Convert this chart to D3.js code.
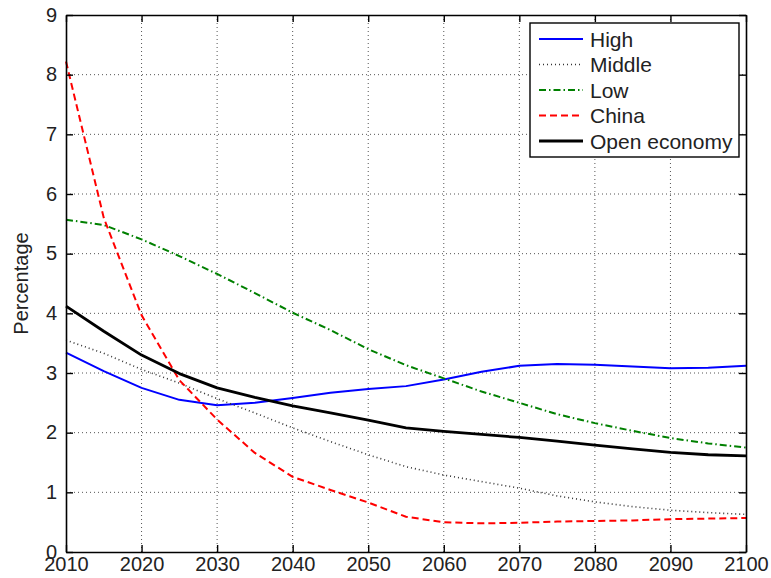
<!DOCTYPE html>
<html>
<head>
<meta charset="utf-8">
<script src="https://cdn.jsdelivr.net/npm/d3@7"></script>
<style>
  html, body { margin: 0; padding: 0; background: #fff; }
  svg { display: block; font-family: "Liberation Sans", Arial, Helvetica, sans-serif; }
</style>
</head>
<body>
<svg id="chart" width="771" height="578"></svg>
<script>
// Projected percentages, 2010-2100 in five-year steps
const years = d3.range(2010, 2101, 5);
const high   = [3.34, 3.03, 2.75, 2.55, 2.46, 2.50, 2.58, 2.67, 2.73, 2.78, 2.89, 3.02, 3.12, 3.15, 3.14, 3.11, 3.08, 3.09, 3.12];
const middle = [3.55, 3.33, 3.06, 2.83, 2.57, 2.33, 2.08, 1.85, 1.63, 1.43, 1.29, 1.18, 1.07, 0.94, 0.84, 0.76, 0.70, 0.66, 0.63];
const low    = [5.57, 5.48, 5.24, 4.96, 4.66, 4.34, 4.01, 3.72, 3.40, 3.13, 2.91, 2.69, 2.50, 2.31, 2.16, 2.03, 1.91, 1.82, 1.75];
const china  = [8.22, 5.60, 3.97, 2.88, 2.22, 1.66, 1.26, 1.04, 0.83, 0.59, 0.50, 0.48, 0.49, 0.51, 0.52, 0.53, 0.55, 0.56, 0.57];
const openEconomy = [4.12, 3.70, 3.30, 2.99, 2.75, 2.59, 2.45, 2.33, 2.21, 2.08, 2.02, 1.97, 1.92, 1.86, 1.79, 1.73, 1.67, 1.63, 1.61];

const xTicks = d3.range(2010, 2101, 10);
const yTicks = d3.range(0, 10, 1);

const seriesNames = ["High", "Middle", "Low", "China", "Open economy"];
const seriesValues = [high, middle, low, china, openEconomy];
const seriesStyle = [
  { color: "#0000ff", width: 2,   dash: null },
  { color: "#333333", width: 1.6, dash: "1,3" },
  { color: "#008000", width: 2,   dash: "7,3,1.5,3" },
  { color: "#ff0000", width: 2,   dash: "7,4" },
  { color: "#000000", width: 2.8, dash: null }
];

const svg = d3.select("#chart");
const W = 771, H = 578;
const m = { left: 66, right: W - 746, top: 15, bottom: H - 552 };
const x = d3.scaleLinear().domain([2010, 2100]).range([m.left, W - m.right]);
const y = d3.scaleLinear().domain([0, 9]).range([H - m.bottom, m.top]);

// dotted grid
const grid = svg.append("g");
grid.selectAll(".gx").data(xTicks.slice(1, -1)).join("line")
  .attr("x1", d => x(d)).attr("x2", d => x(d))
  .attr("y1", y(0)).attr("y2", y(9))
  .attr("stroke", "#555").attr("stroke-width", 1).attr("stroke-dasharray", "1,3");
grid.selectAll(".gy").data(yTicks.slice(1, -1)).join("line")
  .attr("x1", x(2010)).attr("x2", x(2100))
  .attr("y1", d => y(d)).attr("y2", d => y(d))
  .attr("stroke", "#555").attr("stroke-width", 1).attr("stroke-dasharray", "1,3");

// series lines
const line = d3.line().x((d, i) => x(years[i])).y(d => y(d));
seriesValues.forEach((vals, k) => {
  const s = seriesStyle[k];
  svg.append("path").datum(vals)
    .attr("d", line)
    .attr("fill", "none")
    .attr("stroke", s.color)
    .attr("stroke-width", s.width)
    .attr("stroke-linejoin", "round")
    .attr("stroke-dasharray", s.dash);
});

// axes on all four sides, ticks pointing inward
const tickLen = 7;
const axB = svg.append("g").attr("transform", `translate(0,${y(0)})`)
  .call(d3.axisBottom(x).tickValues(xTicks).tickFormat(d3.format("d")).tickSizeInner(-tickLen).tickSizeOuter(0).tickPadding(5));
const axT = svg.append("g").attr("transform", `translate(0,${y(9)})`)
  .call(d3.axisTop(x).tickValues(xTicks).tickFormat("").tickSizeInner(-tickLen).tickSizeOuter(0));
const axL = svg.append("g").attr("transform", `translate(${x(2010)},0)`)
  .call(d3.axisLeft(y).tickValues(yTicks).tickFormat(d3.format("d")).tickSizeInner(-tickLen).tickSizeOuter(0).tickPadding(9));
const axR = svg.append("g").attr("transform", `translate(${x(2100)},0)`)
  .call(d3.axisRight(y).tickValues(yTicks).tickFormat("").tickSizeInner(-tickLen).tickSizeOuter(0));

[axB, axT, axL, axR].forEach(a => {
  a.select(".domain").attr("stroke", "#000").attr("stroke-width", 1.6);
  a.selectAll(".tick line").attr("stroke", "#000").attr("stroke-width", 1.4);
  a.selectAll(".tick text").attr("fill", "#222").attr("font-size", 20)
    .attr("font-family", "'Liberation Sans', Arial, Helvetica, sans-serif");
});
axL.selectAll(".tick text").attr("dy", "0.3em");
axB.selectAll(".tick text").attr("dy", "0.72em");

// y-axis title
svg.append("text")
  .attr("transform", `translate(28,283.5) rotate(-90)`)
  .attr("text-anchor", "middle")
  .attr("font-size", 20).attr("fill", "#222")
  .text("Percentage");

// legend
const lg = svg.append("g");
lg.append("rect")
  .attr("x", 530).attr("y", 23).attr("width", 209).attr("height", 134)
  .attr("fill", "#fff").attr("stroke", "#000").attr("stroke-width", 1.4);
seriesNames.forEach((name, k) => {
  const s = seriesStyle[k];
  const cy = 39 + k * 25.5;
  lg.append("line")
    .attr("x1", 539).attr("x2", 583).attr("y1", cy).attr("y2", cy)
    .attr("stroke", s.color).attr("stroke-width", s.width)
    .attr("stroke-dasharray", s.dash);
  lg.append("text")
    .attr("x", 590).attr("y", cy).attr("dy", "0.36em")
    .attr("font-size", 21).attr("fill", "#222")
    .text(name);
});
</script>
</body>
</html>
